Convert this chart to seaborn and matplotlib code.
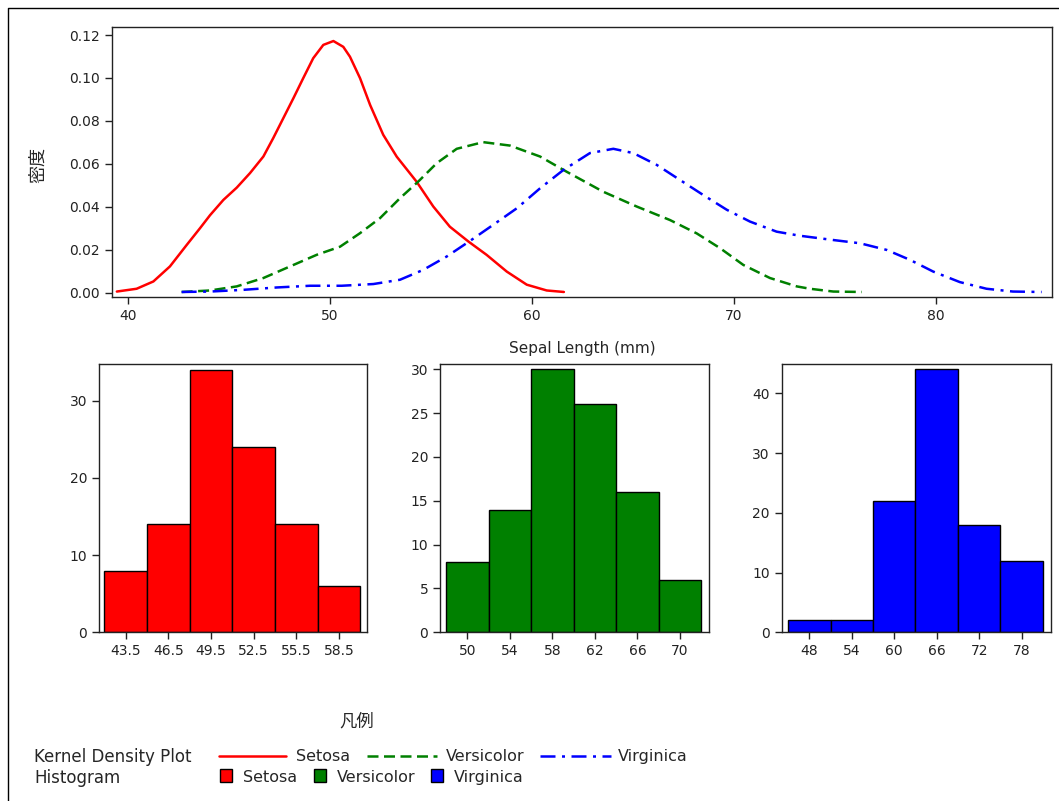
import matplotlib
matplotlib.use("Agg")
import matplotlib.pyplot as plt
from matplotlib.lines import Line2D
from matplotlib.patches import Rectangle
import pandas as pd
import seaborn as sns

# ---- density curves (Sepal Length in mm vs. density) ----
setosa_x = [39.43, 40.41, 41.24, 42.06, 42.89, 43.55, 44.05, 44.71, 45.37, 46.03, 46.69,
            47.18, 47.68, 48.18, 48.67, 49.16, 49.66, 50.16, 50.65, 50.98, 51.48, 51.98,
            52.63, 53.30, 54.28, 55.11, 55.93, 56.85, 57.75, 58.75, 59.74, 60.73, 61.58]
setosa_y = [0.0005, 0.0018, 0.0052, 0.0122, 0.0222, 0.0300, 0.0361, 0.0432, 0.0489, 0.0557, 0.0634,
            0.0720, 0.0813, 0.0906, 0.1000, 0.1092, 0.1154, 0.1172, 0.1145, 0.1099, 0.0999, 0.0874,
            0.0735, 0.0633, 0.0517, 0.0401, 0.0307, 0.0238, 0.0176, 0.0098, 0.0037, 0.0010, 0.0003]

versi_x = [42.64, 44.05, 45.37, 46.69, 48.01, 49.33, 50.49, 51.48, 52.47, 53.46, 54.36,
           55.28, 56.27, 57.58, 58.91, 60.40, 61.72, 63.53, 65.19, 66.84, 68.16, 69.32,
           70.47, 71.79, 73.12, 73.77, 74.93, 76.34]
versi_y = [0.0003, 0.0010, 0.0029, 0.0068, 0.0122, 0.0176, 0.0214, 0.0277, 0.0347, 0.0440, 0.0517,
           0.0603, 0.0670, 0.0701, 0.0685, 0.0634, 0.0563, 0.0470, 0.0401, 0.0338, 0.0276, 0.0207,
           0.0129, 0.0068, 0.0029, 0.0018, 0.0005, 0.0003]

virg_x = [42.64, 44.05, 45.70, 47.35, 49.00, 50.57, 52.14, 53.46, 54.61, 55.77, 56.93,
          58.08, 59.25, 60.40, 61.55, 62.87, 64.03, 65.02, 66.18, 67.33, 68.48, 69.65,
          70.80, 72.12, 73.27, 74.93, 76.25, 77.57, 78.72, 79.88, 81.20, 82.52, 83.83, 85.25]
virg_y = [0.0003, 0.0005, 0.0013, 0.0024, 0.0032, 0.0032, 0.0040, 0.0060, 0.0106, 0.0168, 0.0241,
          0.0316, 0.0393, 0.0486, 0.0571, 0.0650, 0.0670, 0.0650, 0.0595, 0.0525, 0.0455, 0.0386,
          0.0331, 0.0284, 0.0265, 0.0245, 0.0230, 0.0199, 0.0153, 0.0098, 0.0049, 0.0018, 0.0005, 0.0003]

# ---- histograms (percent per bin) ----
setosa_edges = [42, 45, 48, 51, 54, 57, 60]
setosa_pct = [8, 14, 34, 24, 14, 6]
setosa_ticks = [43.5, 46.5, 49.5, 52.5, 55.5, 58.5]

versi_edges = [48, 52, 56, 60, 64, 68, 72]
versi_pct = [8, 14, 30, 26, 16, 6]
versi_ticks = [50, 54, 58, 62, 66, 70]

virg_edges = [45, 51, 57, 63, 69, 75, 81]
virg_pct = [2, 2, 22, 44, 18, 12]
virg_ticks = [48, 54, 60, 66, 72, 78]

species = ["Setosa", "Versicolor", "Virginica"]
colors = ["#FF0000", "#008000", "#0000FF"]
dash_styles = ["-", (0, (4.4, 2.2)), (0, (6, 2.6, 1.2, 2.6))]

sns.set_style("ticks")
plt.rcParams["font.family"] = ["DejaVu Sans", "Noto Sans CJK JP"]
plt.rcParams["axes.edgecolor"] = "#222222"
plt.rcParams["axes.linewidth"] = 1.0
plt.rcParams["xtick.color"] = "#222222"
plt.rcParams["ytick.color"] = "#222222"
plt.rcParams["xtick.labelcolor"] = "#222222"
plt.rcParams["ytick.labelcolor"] = "#222222"

W, H = 1059, 801
fig = plt.figure(figsize=(W / 100, H / 100), dpi=100)


def add_axes_px(left, top, right, bottom):
    return fig.add_axes([left / W, 1 - bottom / H, (right - left) / W, (bottom - top) / H])


def fx(px):
    return px / W


def fy(py):
    return 1 - py / H


# outer frame (left and top edges)
fig.add_artist(Line2D([fx(8), fx(8), fx(1059)], [fy(801), fy(7.5), fy(7.5)], color="black",
                      linewidth=1.0, transform=fig.transFigure))

# ---- top panel: kernel densities ----
TL, TT, TR, TB = 112, 27.3, 1051.7, 296.7
ax = add_axes_px(TL, TT, TR, TB)
curves = [(setosa_x, setosa_y), (versi_x, versi_y), (virg_x, virg_y)]
for (xs, ys), c, ls in zip(curves, colors, dash_styles):
    df = pd.DataFrame({"x": xs, "y": ys})
    sns.lineplot(data=df, x="x", y="y", ax=ax, color=c, linewidth=1.8, sort=True)
    ax.lines[-1].set_linestyle(ls)
ax.set_xlim(39.19, 85.75)
ax.set_ylim(-0.0019, 0.1236)
ax.set_xticks([40, 50, 60, 70, 80])
ax.set_yticks([0.00, 0.02, 0.04, 0.06, 0.08, 0.10, 0.12])
ax.set_yticklabels(["0.00", "0.02", "0.04", "0.06", "0.08", "0.10", "0.12"])
ax.tick_params(direction="out", length=5, width=1, labelsize=10)
ax.set_xlabel("Sepal Length (mm)", fontsize=11)
ax.set_ylabel("密度", fontsize=13)
ax.xaxis.set_label_coords((582 - TL) / (TR - TL), (TB - 348) / (TB - TT))
ax.xaxis.label.set_va("center")
ax.yaxis.set_label_coords((38 - TL) / (TR - TL), (TB - 165) / (TB - TT))
ax.yaxis.label.set_va("center")
for s in ax.spines.values():
    s.set_visible(True)

# ---- bottom panels: histograms ----
hist_specs = [
    ((99, 364, 367.3, 632.3), setosa_edges, setosa_pct, setosa_ticks, (41.62, 60.49), 34.75,
     [0, 10, 20, 30], colors[0]),
    ((440, 364, 708.7, 632.3), versi_edges, versi_pct, versi_ticks, (47.43, 72.7), 30.6,
     [0, 5, 10, 15, 20, 25, 30], colors[1]),
    ((781.7, 364, 1050.7, 632.3), virg_edges, virg_pct, virg_ticks, (44.1, 82.1), 44.9,
     [0, 10, 20, 30, 40], colors[2]),
]
for box, edges, pct, ticks, xlim, ytop, yt, c in hist_specs:
    hax = add_axes_px(*box)
    centers = [(a + b) / 2 for a, b in zip(edges[:-1], edges[1:])]
    sns.histplot(x=centers, weights=pct, bins=edges, ax=hax, color=c, alpha=1.0,
                 edgecolor="black", linewidth=1.0, stat="count")
    hax.set_xlim(*xlim)
    hax.set_ylim(0, ytop)
    hax.set_xticks(ticks)
    hax.set_xticklabels([f"{t:g}" for t in ticks])
    hax.set_yticks(yt)
    hax.set_xlabel("")
    hax.set_ylabel("")
    hax.tick_params(direction="out", length=5, width=1, labelsize=10)
    for s in hax.spines.values():
        s.set_visible(True)

# ---- legend ----
fig.text(fx(357), fy(722), "凡例", fontsize=12.5, ha="center", va="center")
fig.text(fx(34), fy(755), "Kernel Density Plot", fontsize=12, ha="left", va="center_baseline")
fig.text(fx(34), fy(776), "Histogram", fontsize=12, ha="left", va="center_baseline")

line_pos = [(219, 286, 296), (367, 437, 446), (540, 611, 618)]
for (x0, x1, tx), c, ls, name in zip(line_pos, colors, dash_styles, species):
    fig.add_artist(Line2D([fx(x0), fx(x1)], [fy(755.5), fy(755.5)], color=c, linewidth=1.8,
                          linestyle=ls, transform=fig.transFigure))
    fig.text(fx(tx), fy(755), name, fontsize=11.5, ha="left", va="center_baseline")

box_pos = [(220, 243), (314, 337), (431, 454)]
for (bx, tx), c, name in zip(box_pos, colors, species):
    fig.patches.append(Rectangle((fx(bx), fy(782)), 12 / W, 13 / H, transform=fig.transFigure,
                                 facecolor=c, edgecolor="black", linewidth=1.0))
    fig.text(fx(tx), fy(776), name, fontsize=11.5, ha="left", va="center_baseline")

fig.savefig("out.png", dpi=100)
